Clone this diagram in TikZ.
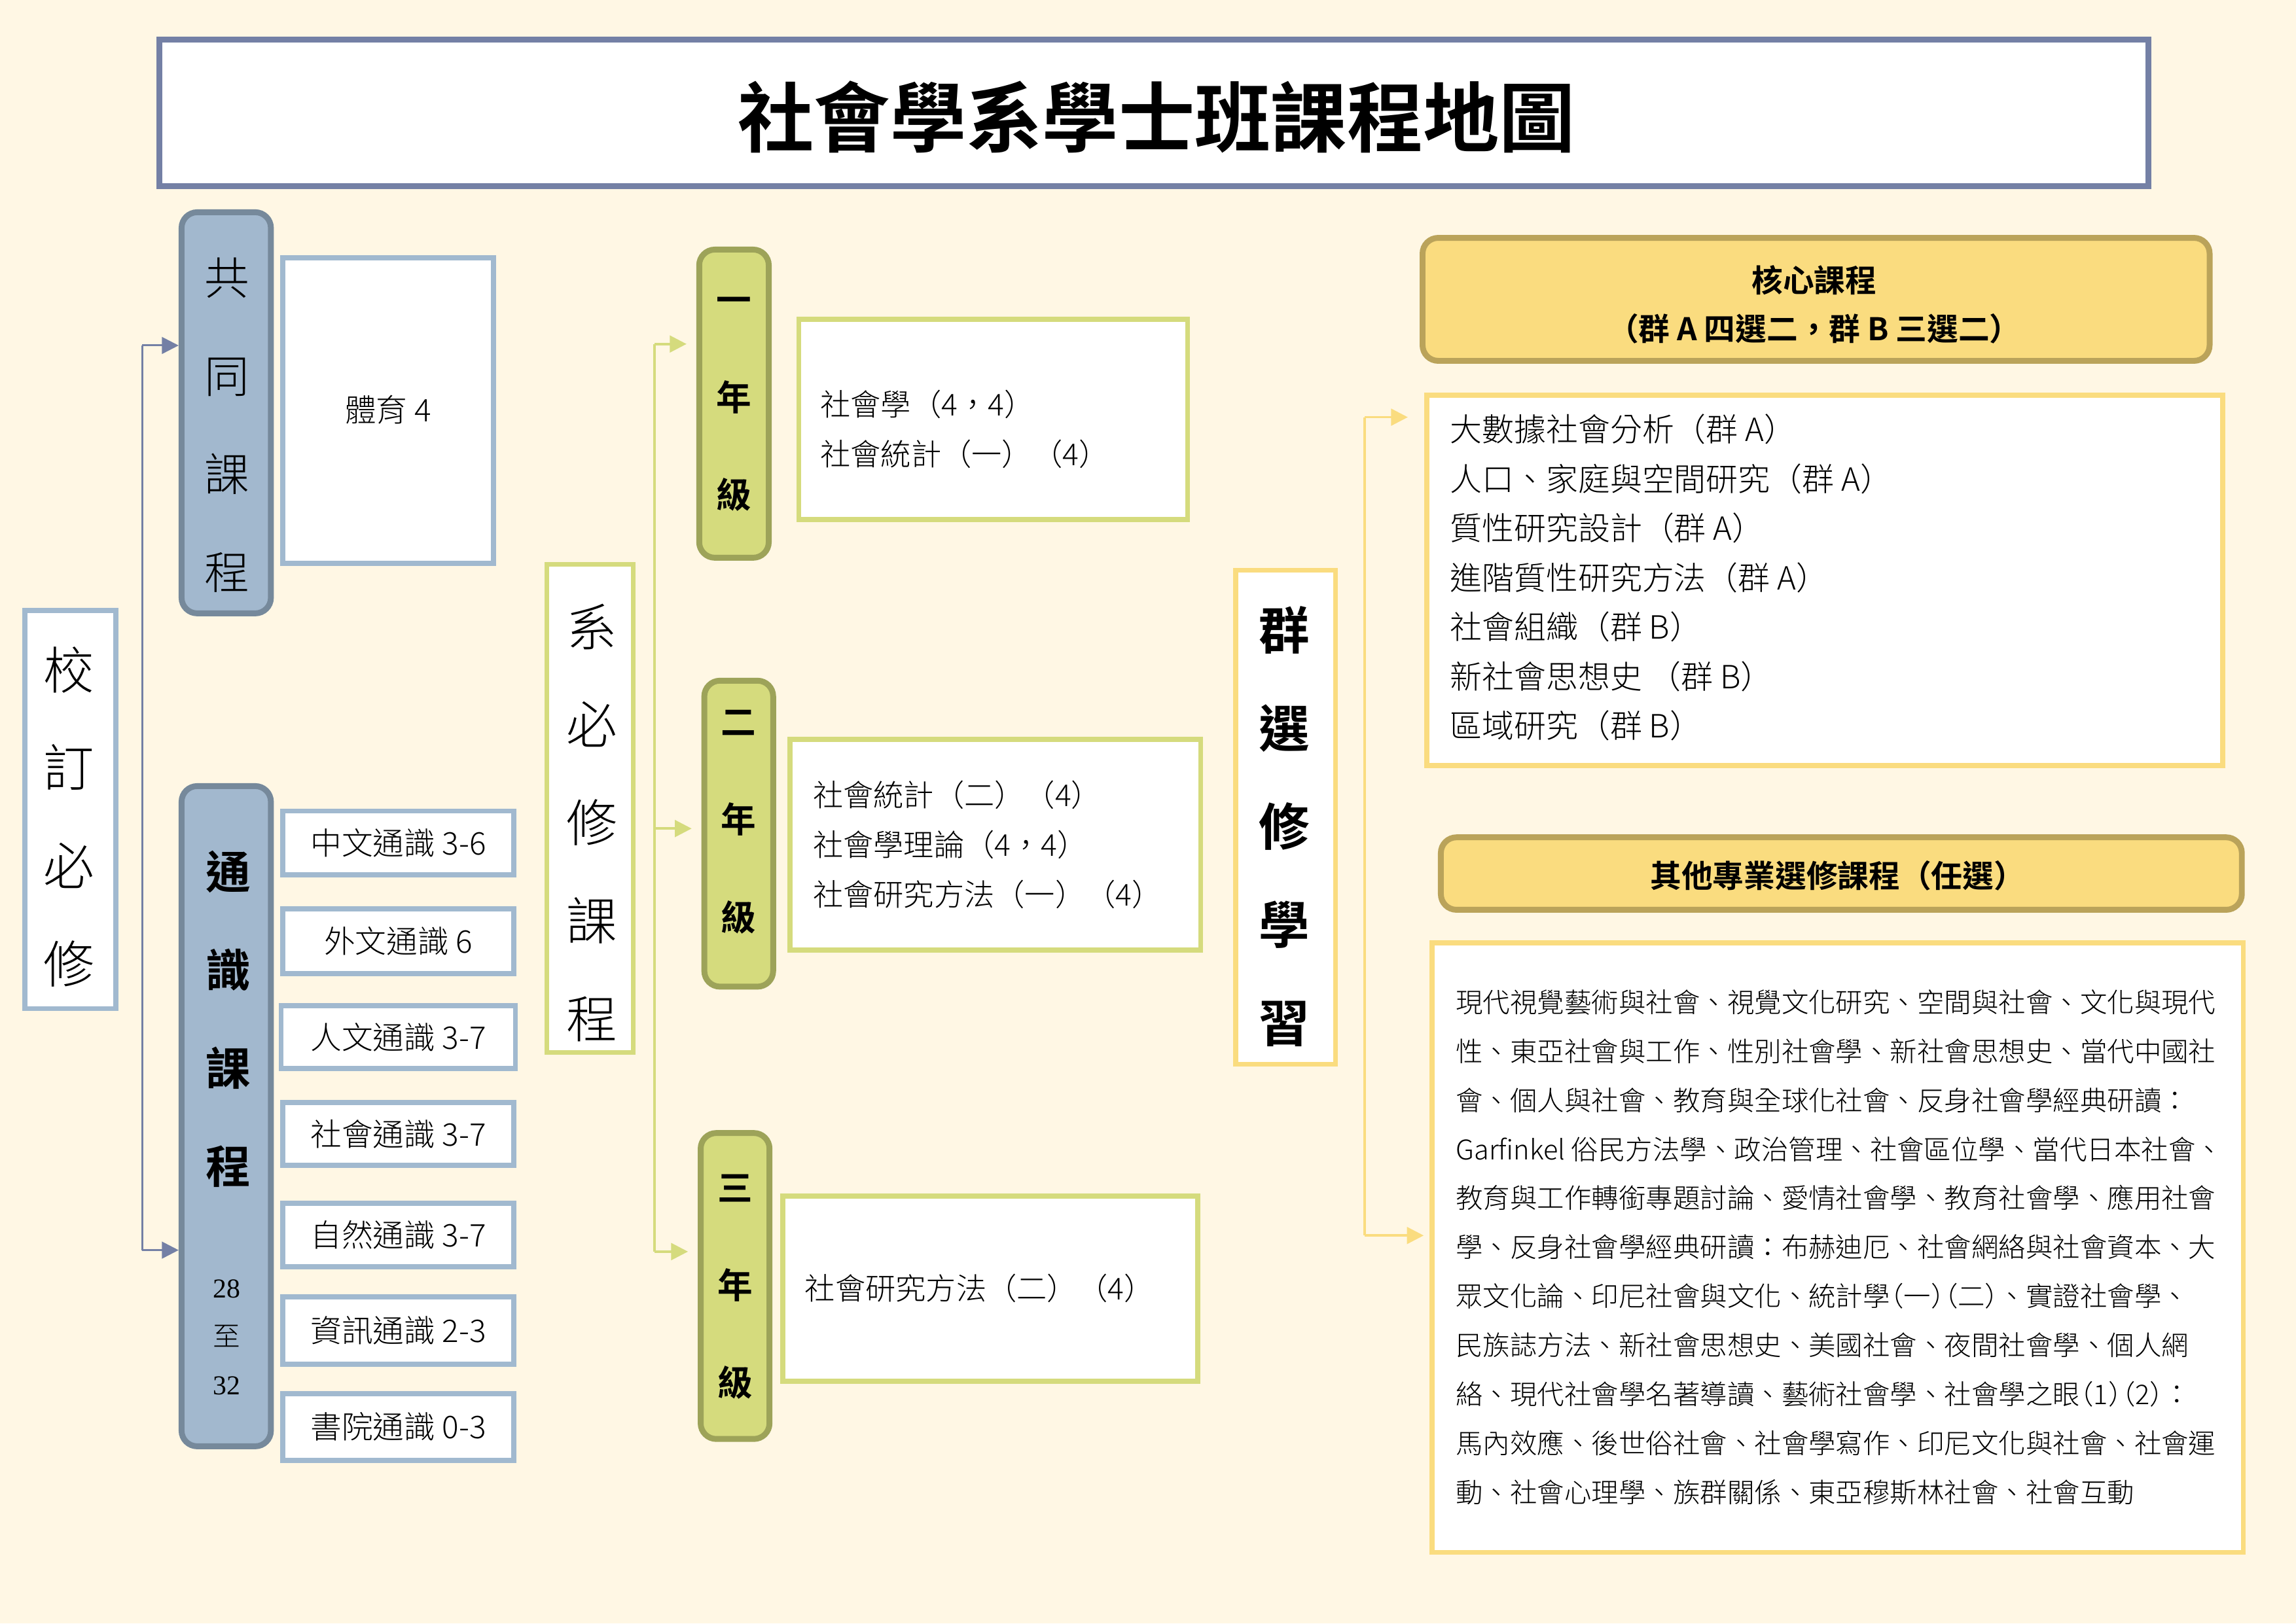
\documentclass[tikz,border=0pt]{standalone}
\usepackage{fontspec}
\IfFontExistsTF{Noto Sans CJK TC Light}
  {\setmainfont{Noto Sans CJK TC Light}[BoldFont={Noto Sans CJK TC Bold}]
   \newfontfamily\halfpunct{Noto Sans CJK TC Light}[RawFeature=+halt]}
  {\setmainfont{Noto Sans CJK TC}
   \newfontfamily\halfpunct{Noto Sans CJK TC}[RawFeature=+halt]}
\newfontfamily\numfont{Liberation Serif}
\usetikzlibrary{arrows.meta,fit}
\definecolor{cream}{RGB}{255,247,228}
\definecolor{slate}{RGB}{116,128,165}
\definecolor{paleblue}{RGB}{161,185,207}
\definecolor{tabblue}{RGB}{162,184,206}
\definecolor{tabblueedge}{RGB}{118,137,155}
\definecolor{olive}{RGB}{213,219,125}
\definecolor{oliveedge}{RGB}{157,163,89}
\definecolor{gold}{RGB}{250,220,127}
\definecolor{goldedge}{RGB}{186,163,90}
\begin{document}
\begin{tikzpicture}[x=0.75pt,y=0.75pt,yscale=-1,xscale=1,
    panel/.style={draw=#1, line width=2.6pt, fill=white, inner sep=0pt},
    tabbox/.style 2 args={draw=#1, fill=#2, line width=3pt, rounded corners=8pt, inner sep=0pt},
    colbig/.style={align=center, inner sep=0pt, font=\fontsize{26}{50.25}\selectfont},
    colbold/.style={align=center, inner sep=0pt, font=\fontsize{26}{50.25}\selectfont\bfseries},
    colmid/.style={align=center, inner sep=0pt, font=\fontsize{23}{50.25}\selectfont},
    colyear/.style={align=center, inner sep=0pt, font=\fontsize{18}{50}\selectfont\bfseries},
    getext/.style={inner sep=0pt, font=\fontsize{16}{18}\selectfont},
    course/.style={anchor=west, align=left, inner sep=0pt, font=\fontsize{15.5}{25.5}\selectfont},
    listtext/.style={anchor=west, align=left, inner sep=0pt, font=\fontsize{16.4}{25.3}\selectfont},
    smalllist/.style={anchor=west, align=left, inner sep=0pt, font=\fontsize{13.9}{25.1}\selectfont},
    headtext/.style={align=center, inner sep=0pt, font=\fontsize{16}{25}\selectfont\bfseries},
    slateline/.style={draw=slate, line width=1pt},
    slatearrow/.style={slateline, -{Triangle[length=8.6pt,width=8.6pt]}},
    oliveline/.style={draw=olive, line width=1.2pt},
    olivearrow/.style={oliveline, -{Triangle[length=8.6pt,width=8.6pt]}, shorten >=5pt},
    goldline/.style={draw=gold, line width=1.2pt},
    goldarrow/.style={goldline, -{Triangle[length=8.6pt,width=8.6pt]}},
]
    \useasboundingbox (0,0) rectangle (1568,1109);
    \fill[cream] (0,0) rectangle (1568,1109);

    %Shape: Rectangle [title]
    \node[panel=slate, line width=3pt, fit={(109,27) (1467,127)}] (title) {};
    % Text Node
    \node[inner sep=0pt, font=\fontsize{39}{45}\selectfont\bfseries] (titletxt) at (790,80) {社會學系學士班課程地圖};

    %Shape: Rectangle [left column]
    \node[panel=paleblue, fit={(17,417) (79,689)}] (jiao) {};
    \node[colbig] (jiaotxt) at (47,558) {校\\訂\\必\\修};

    \node[tabbox={tabblueedge}{tabblue}, fit={(124,145) (185,419)}] (gongtong) {};
    \node[colmid] (gongtongtxt) at (155,290.5) {共\\同\\課\\程};
    \node[panel=paleblue, fit={(193,176) (337,385)}] (tiyu) {};
    \node[getext] (tiyutxt) at (265,280) {體育 4};

    \node[tabbox={tabblueedge}{tabblue}, fit={(124,537) (185,988)}] (tongshi) {};
    \node[colmid, font=\fontsize{23}{50.25}\selectfont\bfseries] (tongshitxt) at (156,696) {通\\識\\課\\程};
    \node[align=center, inner sep=0pt, font=\fontsize{14}{24.9}\selectfont] (tongshicredit) at (155,913.5) {{\numfont 28}\\至\\{\numfont 32}};

    %Shape: Rectangle [general education]
    \node[panel=paleblue, fit={(193,554) (351,597.5)}] (zhongwen) {};
    \node[getext] (zhongwentxt) at (zhongwen) {中文通識 3-6};
    \node[panel=paleblue, fit={(193,621) (351,665)}] (waiwen) {};
    \node[getext] (waiwentxt) at (waiwen) {外文通識 6};
    \node[panel=paleblue, fit={(192,687) (352,730)}] (renwen) {};
    \node[getext] (renwentxt) at (renwen) {人文通識 3-7};
    \node[panel=paleblue, fit={(193,753) (351,796)}] (shehui) {};
    \node[getext] (shehuitxt) at (shehui) {社會通識 3-7};
    \node[panel=paleblue, fit={(193,822) (351,865.5)}] (ziran) {};
    \node[getext] (zirantxt) at (ziran) {自然通識 3-7};
    \node[panel=paleblue, fit={(193,886) (351,932)}] (zixun) {};
    \node[getext] (zixuntxt) at (zixun) {資訊通識 2-3};
    \node[panel=paleblue, fit={(193,952) (351,997.5)}] (shuyuan) {};
    \node[getext] (shuyuantxt) at (shuyuan) {書院通識 0-3};

    %Shape: Rectangle [department required]
    \node[panel=olive, fit={(373.5,385.5) (432.5,719)}] (xibi) {};
    \node[colbig] (xibitxt) at (404,562) {系\\必\\修\\課\\程};

    \node[tabbox={oliveedge}{olive}, fit={(477.5,170.5) (525,381)}] (year1) {};
    \node[colyear] (year1txt) at (501,276) {一\\年\\級};
    \node[tabbox={oliveedge}{olive}, fit={(481,465) (528,674)}] (year2) {};
    \node[colyear] (year2txt) at (504.5,561.5) {二\\年\\級};
    \node[tabbox={oliveedge}{olive}, fit={(478.5,774) (525.5,983)}] (year3) {};
    \node[colyear] (year3txt) at (502,879) {三\\年\\級};

    \node[panel=olive, fit={(545.5,218) (811,355)}] (course1) {};
    \node[course] (course1txt) at (560,293) {社會學（4，4）\\社會統計（一）（4）};
    \node[panel=olive, fit={(539.5,505) (820,649)}] (course2) {};
    \node[course] (course2txt) at (555,577) {社會統計（二）（4）\\社會學理論（4，4）\\社會研究方法（一）（4）};
    \node[panel=olive, fit={(534.5,817) (818,943.5)}] (course3) {};
    \node[course] (course3txt) at (549.5,880) {社會研究方法（二）（4）};

    %Shape: Rectangle [group electives]
    \node[panel=gold, fit={(844,389.5) (912,727)}] (qunxuan) {};
    \node[colbold] (qunxuantxt) at (877,564.5) {群\\選\\修\\學\\習};

    \node[tabbox={goldedge}{gold}, fit={(971.5,162.5) (1509,246.5)}] (corehead) {};
    \node[headtext] (coreheadtxt) at (1239,208) {核心課程\\（群 A 四選二，群 B 三選二）};
    \node[panel=gold, fit={(974.5,270) (1518,523)}] (corelist) {};
    \node[listtext] (corelisttxt) at (990,394.5) {大數據社會分析（群 A）\\人口、家庭與空間研究（群 A）\\質性研究設計（群 A）\\進階質性研究方法（群 A）\\社會組織（群 B）\\新社會思想史 （群 B）\\區域研究（群 B）};

    \node[tabbox={goldedge}{gold}, fit={(984,572) (1531,621.5)}] (otherhead) {};
    \node[headtext] (otherheadtxt) at (1255,598) {其他專業選修課程（任選）};
    \node[panel=gold, fit={(978,644) (1532,1060.5)}] (otherlist) {};
    \node[smalllist] (otherlisttxt) at (994,852) {現代視覺藝術與社會、視覺文化研究、空間與社會、文化與現代\\性、東亞社會與工作、性別社會學、新社會思想史、當代中國社\\會、個人與社會、教育與全球化社會、反身社會學經典研讀：\\Garfinkel 俗民方法學、政治管理、社會區位學、當代日本社會、\\教育與工作轉銜專題討論、愛情社會學、教育社會學、應用社會\\學、反身社會學經典研讀：布赫迪厄、社會網絡與社會資本、大\\眾文化論、印尼社會與文化、統計學{\halfpunct （}一{\halfpunct ）（}二{\halfpunct ）}、實證社會學、\\民族誌方法、新社會思想史、美國社會、夜間社會學、個人網\\絡、現代社會學名著導讀、藝術社會學、社會學之眼{\halfpunct （}1{\halfpunct ）（}2{\halfpunct ）}：\\馬內效應、後世俗社會、社會學寫作、印尼文化與社會、社會運\\動、社會心理學、族群關係、東亞穆斯林社會、社會互動};

    %Straight Lines [brackets]
    \coordinate (stop) at (97,236);
    \coordinate (sbot) at (97,854);
    \draw[slateline] (stop) -- (sbot);
    \draw[slatearrow] (stop) -- (stop -| gongtong.west);
    \draw[slatearrow] (sbot) -- (sbot -| tongshi.west);

    \coordinate (otop) at (447,235);
    \coordinate (omid) at (447,566);
    \coordinate (obot) at (447,855);
    \draw[oliveline] (otop) -- (obot);
    \draw[olivearrow] (otop) -- (otop -| year1.west);
    \draw[olivearrow] (omid) -- (omid -| year2.west);
    \draw[olivearrow] (obot) -- (obot -| year3.west);

    \coordinate (gtop) at (932,285);
    \coordinate (gbot) at (932,844);
    \draw[goldline] (gtop) -- (gbot);
    \draw[goldarrow, shorten >=8.5pt] (gtop) -- (gtop -| corelist.west);
    \draw[goldarrow, shorten >=3pt] (gbot) -- (gbot -| otherlist.west);
\end{tikzpicture}
\end{document}
